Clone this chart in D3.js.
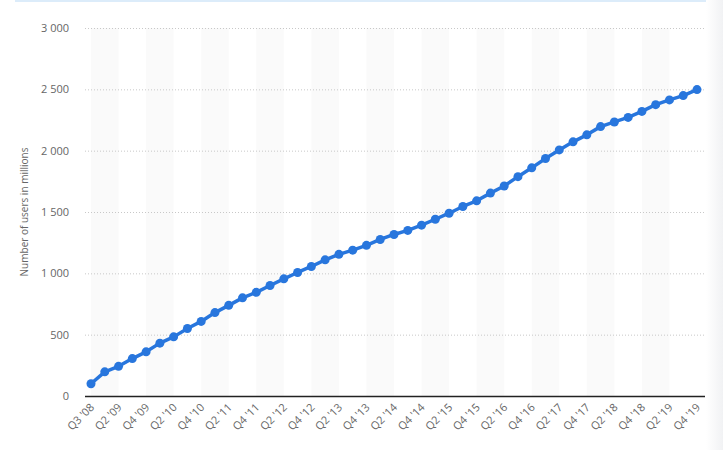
<!DOCTYPE html>
<html>
<head>
<meta charset="utf-8">
<script src="https://cdn.jsdelivr.net/npm/d3@7"></script>
<style>
  body { margin: 0; background: #fff; }
  svg { display: block; font-family: "Open Sans", sans-serif; }
</style>
</head>
<body>
<div id="chart"></div>
<script>
// Quarters (no Q4 '08 in the source series)
const quarters = [
  "Q3 '08", "Q1 '09", "Q2 '09", "Q3 '09", "Q4 '09",
  "Q1 '10", "Q2 '10", "Q3 '10", "Q4 '10",
  "Q1 '11", "Q2 '11", "Q3 '11", "Q4 '11",
  "Q1 '12", "Q2 '12", "Q3 '12", "Q4 '12",
  "Q1 '13", "Q2 '13", "Q3 '13", "Q4 '13",
  "Q1 '14", "Q2 '14", "Q3 '14", "Q4 '14",
  "Q1 '15", "Q2 '15", "Q3 '15", "Q4 '15",
  "Q1 '16", "Q2 '16", "Q3 '16", "Q4 '16",
  "Q1 '17", "Q2 '17", "Q3 '17", "Q4 '17",
  "Q1 '18", "Q2 '18", "Q3 '18", "Q4 '18",
  "Q1 '19", "Q2 '19", "Q3 '19", "Q4 '19"
];

// Monthly active users, millions
const users = [
  100, 197, 242, 305, 360,
  431, 482, 550, 608,
  680, 739, 800, 845,
  901, 955, 1007, 1056,
  1110, 1155, 1189, 1228,
  1276, 1317, 1350, 1393,
  1441, 1490, 1545, 1591,
  1654, 1712, 1788, 1860,
  1936, 2006, 2072, 2129,
  2196, 2234, 2271, 2320,
  2375, 2414, 2449, 2498
];

const yTicks = [0, 500, 1000, 1500, 2000, 2500, 3000];
const yTitle = 'Number of users in millions';

const width = 723, height = 450;
const plot = { left: 85, right: 705, top: 28, bottom: 396 };

const svg = d3.select('#chart').append('svg')
  .attr('width', width)
  .attr('height', height);

// thin light-blue strip at the top of the page
svg.append('rect')
  .attr('x', 15).attr('y', 0)
  .attr('width', 692).attr('height', 2)
  .attr('fill', '#dcecfa');

// faint shadow at right edge
const grad = svg.append('defs').append('linearGradient')
  .attr('id', 'edge').attr('x1', 0).attr('x2', 1);
grad.append('stop').attr('offset', 0).attr('stop-color', '#fff');
grad.append('stop').attr('offset', 1).attr('stop-color', '#f1f2f4');
svg.append('rect')
  .attr('x', 706).attr('y', 0)
  .attr('width', 17).attr('height', height)
  .attr('fill', 'url(#edge)');

const x = d3.scalePoint()
  .domain(d3.range(quarters.length))
  .range([91, 697]);
const step = x.step();

const y = d3.scaleLinear()
  .domain([0, 3000])
  .range([plot.bottom, plot.top]);

// alternating bands, two quarters wide every four quarters
const bandStarts = d3.range(0, quarters.length - 1, 4);
svg.append('g').selectAll('rect')
  .data(bandStarts)
  .enter()
  .append('rect')
  .attr('x', d => x(d))
  .attr('y', plot.top)
  .attr('width', step * 2)
  .attr('height', plot.bottom - plot.top)
  .attr('fill', '#fafafa');

// gridlines
svg.append('g').selectAll('line')
  .data(yTicks.filter(d => d > 0))
  .enter()
  .append('line')
  .attr('x1', plot.left).attr('x2', plot.right)
  .attr('y1', d => y(d) + 0.5).attr('y2', d => y(d) + 0.5)
  .attr('stroke', '#c8c8c8')
  .attr('stroke-dasharray', '1,2');

// y tick labels
svg.append('g').selectAll('text')
  .data(yTicks)
  .enter()
  .append('text')
  .attr('x', 69)
  .attr('y', d => y(d))
  .attr('dy', '0.35em')
  .attr('text-anchor', 'end')
  .attr('font-size', 11)
  .attr('fill', '#666')
  .text(d => d3.format(',')(d).replace(',', ' '));

// y title
svg.append('text')
  .attr('transform', `translate(28, ${(plot.top + plot.bottom) / 2}) rotate(-90)`)
  .attr('text-anchor', 'middle')
  .attr('font-size', 10)
  .attr('fill', '#666')
  .text(yTitle);

// baseline
svg.append('line')
  .attr('x1', plot.left).attr('x2', plot.right)
  .attr('y1', plot.bottom + 0.5).attr('y2', plot.bottom + 0.5)
  .attr('stroke', '#222')
  .attr('stroke-width', 1.5);

// x labels, every second quarter
svg.append('g').selectAll('text')
  .data(d3.range(0, quarters.length, 2))
  .enter()
  .append('text')
  .attr('transform', d => `translate(${x(d) + 4}, ${plot.bottom + 12}) rotate(-45)`)
  .attr('text-anchor', 'end')
  .attr('font-size', 11)
  .attr('fill', '#666')
  .text(d => quarters[d]);

// line and markers
const color = '#2876dd';
const line = d3.line()
  .x((d, i) => x(i))
  .y(d => y(d));

svg.append('path')
  .datum(users)
  .attr('d', line)
  .attr('fill', 'none')
  .attr('stroke', color)
  .attr('stroke-width', 3.5)
  .attr('stroke-linejoin', 'round');

svg.append('g').selectAll('circle')
  .data(users)
  .enter()
  .append('circle')
  .attr('cx', (d, i) => x(i))
  .attr('cy', d => y(d))
  .attr('r', 4.5)
  .attr('fill', color);
</script>
</body>
</html>
